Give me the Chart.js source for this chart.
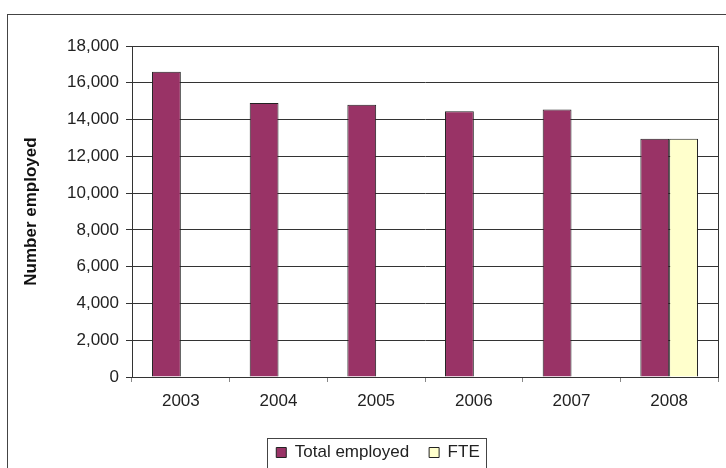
<!DOCTYPE html>
<html>
<head>
<meta charset="utf-8">
<script src="https://cdn.jsdelivr.net/npm/chart.js@4.4.0/dist/chart.umd.min.js"></script>
<style>
    html, body { margin: 0; padding: 0; background: #fff; overflow: hidden; }
    #wrap { width: 726px; height: 471px; }
</style>
</head>
<body>
<div id="wrap"><canvas id="chart" width="726" height="471"></canvas></div>
<script>
// data
const years = ['2003', '2004', '2005', '2006', '2007', '2008'];
const totalEmployed = [16600, 14900, 14800, 14450, 14550, 12950];
const fte = [null, null, null, null, null, 12950];
const yTicks = [0, 2000, 4000, 6000, 8000, 10000, 12000, 14000, 16000, 18000];

const font = 'Liberation Sans, Arial, sans-serif';

// frame round the whole picture, plot box and box round the legend
const framePlugin = {
    id: 'frames',
    afterLayout(chart) {
        // legend sits a bit right of centre in the original
        chart.legend.left += 19;
        chart.legend.right += 19;
    },
    afterDraw(chart) {
        const ctx = chart.ctx;
        const a = chart.chartArea;
        ctx.save();
        ctx.lineWidth = 1;
        ctx.strokeStyle = '#333';
        ctx.strokeRect(Math.round(a.left) + 0.5, Math.round(a.top) + 0.5,
            Math.round(a.right - a.left), Math.round(a.bottom - a.top));

        ctx.strokeStyle = '#444';
        ctx.strokeRect(7.5, 14.5, 800, 500);

        const hb = chart.legend.legendHitBoxes;
        if (hb && hb.length) {
            const last = hb[hb.length - 1];
            const l = Math.round(hb[0].left - 9) + 0.5;
            const r = Math.round(last.left + last.width + 6) + 0.5;
            const t = Math.round(hb[0].top - 6) + 0.5;
            ctx.strokeRect(l, t, r - l, 100);
        }
        ctx.restore();
    }
};

new Chart(document.getElementById('chart'), {
    type: 'bar',
    data: {
        labels: years,
        datasets: [
            {
                label: 'Total employed',
                data: totalEmployed,
                backgroundColor: '#993366',
                borderColor: '#222',
                borderWidth: 1
            },
            {
                label: 'FTE',
                data: fte,
                backgroundColor: '#FFFFCC',
                borderColor: '#222',
                borderWidth: 1
            }
        ]
    },
    options: {
        responsive: false,
        animation: false,
        events: [],
        layout: { padding: { left: 0, top: 46, right: 8, bottom: 0 } },
        datasets: {
            bar: { categoryPercentage: 0.59, barPercentage: 1 }
        },
        scales: {
            x: {
                grid: {
                    drawOnChartArea: false,
                    drawTicks: true,
                    tickLength: 5,
                    color: '#888'
                },
                border: { display: true, color: '#333' },
                ticks: {
                    font: { family: font, size: 17 },
                    color: '#222',
                    padding: 9
                },
                afterFit(scale) { scale.height = 47; }
            },
            y: {
                min: 0,
                max: 18000,
                afterBuildTicks(scale) {
                    scale.ticks = yTicks.map(v => ({ value: v }));
                },
                grid: {
                    color: '#333',
                    lineWidth: 1,
                    tickLength: 6
                },
                border: { display: true, color: '#333' },
                ticks: {
                    font: { family: font, size: 17 },
                    color: '#222',
                    padding: 7,
                    callback: v => v.toLocaleString('en-US')
                },
                title: {
                    display: true,
                    text: 'Number employed',
                    font: { family: font, size: 17, weight: 'bold' },
                    color: '#111',
                    padding: { top: 21, bottom: 0 }
                },
                afterFit(scale) { scale.width = 132; }
            }
        },
        plugins: {
            legend: {
                position: 'bottom',
                labels: {
                    font: { family: font, size: 17 },
                    color: '#222',
                    boxWidth: 10,
                    boxHeight: 10,
                    padding: 20
                }
            },
            tooltip: { enabled: false }
        }
    },
    plugins: [framePlugin]
});
</script>
</body>
</html>
